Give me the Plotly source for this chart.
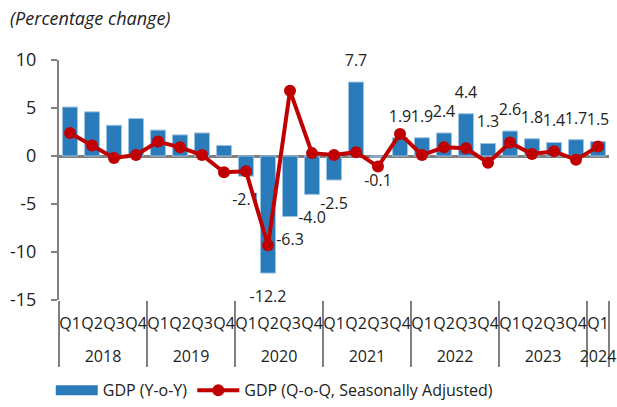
import plotly.graph_objects as go

years = ["2018"] * 4 + ["2019"] * 4 + ["2020"] * 4 + ["2021"] * 4 + ["2022"] * 4 + ["2023"] * 4 + ["2024"]
quarters = ["Q1", "Q2", "Q3", "Q4"] * 6 + ["Q1"]

gdp_yoy = [5.1, 4.6, 3.2, 3.9,
           2.7, 2.2, 2.4, 1.1,
           -2.1, -12.2, -6.3, -4.0,
           -2.5, 7.7, -0.1, 1.9,
           1.9, 2.4, 4.4, 1.3,
           2.6, 1.8, 1.4, 1.7,
           1.5]
gdp_qoq = [2.4, 1.1, -0.2, 0.1,
           1.5, 0.9, 0.1, -1.7,
           -1.6, -9.3, 6.8, 0.3,
           0.1, 0.4, -1.1, 2.3,
           0.1, 0.9, 0.8, -0.7,
           1.4, 0.2, 0.5, -0.4,
           1.0]
# data labels shown from 2020 onward
show_label = [False] * 8 + [True] * 17

y_ticks = [-15, -10, -5, 0, 5, 10]
y_tick_text = ["-15", "-10", "-5", "0", "5", "10"]

BAR_COLOR = "#2a7bba"
LINE_COLOR = "#c00000"
AXIS_COLOR = "#808080"
FONT = "Open Sans"

# outer (year) labels get an empty first line so they sit lower, as in the original
x = [["<br>" + yr for yr in years], quarters]

fig = go.Figure()
fig.add_trace(go.Bar(
    x=x, y=gdp_yoy, name="GDP (Y-o-Y)", showlegend=False,
    marker=dict(color=BAR_COLOR, line=dict(color="#9cc3e5", width=1)),
))

# data labels for bars
lab_y = [(v + 2.1 if v >= 0 else v - 2.6) for v in gdp_yoy]
lab_text = [f"{v:.1f}" if s else "" for v, s in zip(gdp_yoy, show_label)]
fig.add_trace(go.Scatter(
    x=x, y=lab_y, mode="text", text=lab_text, textposition="middle center",
    textfont=dict(family=FONT, size=16, color="#222222"), showlegend=False,
    hoverinfo="skip", cliponaxis=False,
))

# legend proxy for the bar series (wide rectangle symbol)
fig.add_trace(go.Scatter(
    x=[[x[0][0]], [x[1][0]]], y=[None], mode="lines", name="GDP (Y-o-Y)",
    line=dict(color=BAR_COLOR, width=10),
))

fig.add_trace(go.Scatter(
    x=x, y=gdp_qoq, mode="lines+markers", name="GDP (Q-o-Q, Seasonally Adjusted)",
    line=dict(color=LINE_COLOR, width=4),
    marker=dict(color=LINE_COLOR, size=12), cliponaxis=False,
))

fig.update_layout(
    width=617, height=407,
    margin=dict(l=59, r=8, t=60, b=107, autoexpand=False),
    paper_bgcolor="white", plot_bgcolor="white",
    font=dict(family=FONT, size=16, color="#222222"),
    bargap=0.32,
    legend=dict(orientation="h", x=-0.015, xanchor="left", y=-0.376, yanchor="middle",
                itemwidth=42, font=dict(size=16), tracegroupgap=0,
                bgcolor="rgba(0,0,0,0)"),
    annotations=[dict(
        text="<i>(Percentage change)</i>", xref="paper", yref="paper",
        x=-0.093, y=1.175, xanchor="left", yanchor="middle", showarrow=False,
        font=dict(family=FONT, size=18, color="#222222"),
    )],
)
fig.update_xaxes(
    type="multicategory", showgrid=False, showline=False, ticks="",
    showdividers=True, dividercolor=AXIS_COLOR, dividerwidth=2,
    tickfont=dict(size=16), tickangle=0, automargin=False,
    ticklabelstandoff=12,
    range=[-0.5, len(quarters) - 0.5],
)
fig.update_yaxes(
    range=[-15, 10], tickvals=y_ticks, ticktext=y_tick_text, showgrid=False,
    showline=True, linecolor=AXIS_COLOR, linewidth=2,
    ticks="outside", ticklen=6, tickcolor=AXIS_COLOR, tickwidth=2,
    zeroline=True, zerolinecolor=AXIS_COLOR, zerolinewidth=2.5,
    tickfont=dict(size=18), ticklabelstandoff=11, automargin=False,
)

# remove the page's default 8px body margin so the figure fills the window exactly
fig.write_html("out.html", config={"displayModeBar": False},
               post_script="document.body.style.margin='0';")
